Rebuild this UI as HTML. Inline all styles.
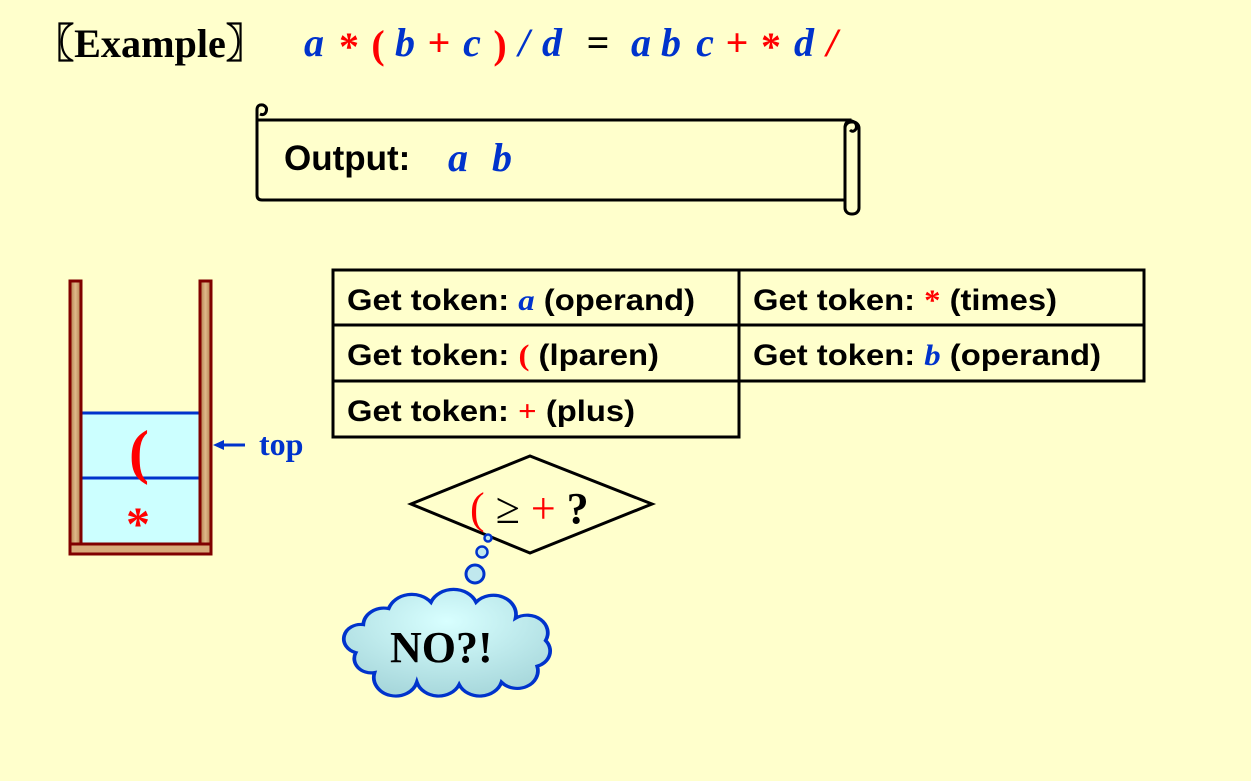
<!DOCTYPE html>
<html><head><meta charset="utf-8"><style>
body{margin:0;width:1251px;height:781px;background:#FFFFCC;overflow:hidden}
svg{display:block}
.s{font-family:"Liberation Sans",sans-serif;font-weight:bold;fill:#000}
.t{font-family:"Liberation Serif",serif;font-weight:bold}
</style></head><body>
<svg width="1251" height="781" viewBox="0 0 1251 781">
<defs>
<linearGradient id="wood" x1="0" x2="1"><stop offset="0" stop-color="#b07a4a"/><stop offset=".5" stop-color="#e0b98a"/><stop offset="1" stop-color="#b07a4a"/></linearGradient>
<radialGradient id="cg" cx=".5" cy=".3" r=".7"><stop offset="0" stop-color="#d8ffff"/><stop offset="1" stop-color="#a8d8dc"/></radialGradient>
</defs>
<text x="34" y="57" class="t" font-size="40" textLength="232" lengthAdjust="spacingAndGlyphs">〖Example〗</text>
<g class="t" font-size="40" font-style="italic" text-anchor="middle">
<text x="314" y="56" fill="#0033CC">a</text>
<text x="349" y="60" fill="#FF0000" font-style="normal">*</text>
<text x="378" y="58" fill="#FF0000" font-style="normal">(</text>
<text x="405" y="56" fill="#0033CC">b</text>
<text x="439" y="56" fill="#FF0000" font-style="normal">+</text>
<text x="472" y="56" fill="#0033CC">c</text>
<text x="500" y="58" fill="#FF0000" font-style="normal">)</text>
<text x="524" y="56" fill="#0033CC">/</text>
<text x="552" y="56" fill="#0033CC">d</text>
<text x="598" y="56" fill="#000" font-style="normal">=</text>
<text x="641" y="56" fill="#0033CC">a</text>
<text x="671" y="56" fill="#0033CC">b</text>
<text x="705" y="56" fill="#0033CC">c</text>
<text x="737" y="56" fill="#FF0000" font-style="normal">+</text>
<text x="771" y="60" fill="#FF0000" font-style="normal">*</text>
<text x="804" y="56" fill="#0033CC">d</text>
<text x="832" y="56" fill="#FF0000">/</text>
</g>

<!-- scroll -->
<path d="M257,120 L850,120 L850,200 L262,200 Q257,200 257,195 Z" fill="#FFFFCC" stroke="#000" stroke-width="3"/>
<path d="M257,120 L257,110 Q257,104 263,105 Q268,107 266,112 Q264,116 260,114" fill="none" stroke="#000" stroke-width="3"/>
<rect x="845" y="122" width="14" height="92" rx="6" fill="#FFFFCC" stroke="#000" stroke-width="3"/>
<path d="M845,128 Q845,120 852,121 Q858,123 856,129 Q853,133 850,130" fill="none" stroke="#000" stroke-width="3"/>
<text x="284" y="170" class="s" font-size="35">Output:</text>
<text x="448" y="171" class="t" font-size="40" font-style="italic" fill="#0033CC">a</text>
<text x="492" y="171" class="t" font-size="40" font-style="italic" fill="#0033CC">b</text>

<!-- stack -->
<rect x="82" y="412" width="117" height="133" fill="#CCFFFF"/>
<line x1="82" y1="413" x2="199" y2="413" stroke="#0033CC" stroke-width="3"/>
<line x1="82" y1="478" x2="199" y2="478" stroke="#0033CC" stroke-width="3"/>
<rect x="70" y="281" width="11" height="273" fill="url(#wood)" stroke="#800000" stroke-width="3"/>
<rect x="200" y="281" width="11" height="273" fill="url(#wood)" stroke="#800000" stroke-width="3"/>
<rect x="70" y="544" width="141" height="10" fill="#d8aa7a" stroke="#800000" stroke-width="3"/>
<text x="129" y="472" class="t" font-size="60" fill="#FF0000" font-weight="normal">(</text>
<text x="126" y="540" class="t" font-size="48" fill="#FF0000">*</text>
<line x1="222" y1="445" x2="245" y2="445" stroke="#0033CC" stroke-width="3"/>
<polygon points="213,445 224,440 224,450" fill="#0033CC"/>
<text x="259" y="455" class="t" font-size="32" fill="#0033CC">top</text>

<!-- table -->
<g fill="none" stroke="#000" stroke-width="3">
<rect x="333" y="270" width="406" height="55"/>
<rect x="739" y="270" width="405" height="55"/>
<rect x="333" y="325" width="406" height="56"/>
<rect x="739" y="325" width="405" height="56"/>
<rect x="333" y="381" width="406" height="56"/>
</g>
<g class="s" font-size="30">
<text x="347" y="310" textLength="348" lengthAdjust="spacingAndGlyphs">Get token: <tspan class="t" font-style="italic" fill="#0033CC">a</tspan> (operand)</text>
<text x="753" y="310" textLength="304" lengthAdjust="spacingAndGlyphs">Get token: <tspan class="t" fill="#FF0000">*</tspan> (times)</text>
<text x="347" y="365" textLength="312" lengthAdjust="spacingAndGlyphs">Get token: <tspan class="t" fill="#FF0000" font-weight="normal">(</tspan> (lparen)</text>
<text x="753" y="365" textLength="348" lengthAdjust="spacingAndGlyphs">Get token: <tspan class="t" font-style="italic" fill="#0033CC">b</tspan> (operand)</text>
<text x="347" y="421" textLength="288" lengthAdjust="spacingAndGlyphs">Get token: <tspan class="t" fill="#FF0000" font-weight="normal">+</tspan> (plus)</text>
</g>

<!-- diamond -->
<polygon points="411,504 530,456 652,504 530,553" fill="#FFFFCC" stroke="#000" stroke-width="3"/>
<text x="470" y="523" class="t" font-size="44"><tspan fill="#FF0000" font-weight="normal">(</tspan><tspan font-weight="normal"> ≥ </tspan><tspan fill="#FF0000" font-weight="normal">+</tspan> ?</text>

<!-- bubbles -->
<circle cx="488" cy="538" r="3.5" fill="#c0e8ee" stroke="#0033CC" stroke-width="2.5"/>
<circle cx="482" cy="552" r="5.5" fill="#c0e8ee" stroke="#0033CC" stroke-width="2.5"/>
<circle cx="475" cy="574" r="9" fill="#c0e8ee" stroke="#0033CC" stroke-width="3"/>
<g transform="translate(446,643) scale(0.94,0.8) translate(-446,-643)">
<path d="M358,620 A22,22 0 0 1 385,600 A26,26 0 0 1 430,592 A26,26 0 0 1 478,592 A24,24 0 0 1 520,612 A22,22 0 0 1 552,640 A20,20 0 0 1 543,672 A22,22 0 0 1 505,692 A24,24 0 0 1 460,695 A24,24 0 0 1 415,692 A22,22 0 0 1 370,680 A18,18 0 0 1 350,655 A18,18 0 0 1 358,620 Z" fill="url(#cg)" stroke="#0033CC" stroke-width="4"/>
</g>
<text x="390" y="662" class="t" font-size="44" fill="#000">NO?!</text>
</svg>
</body></html>
